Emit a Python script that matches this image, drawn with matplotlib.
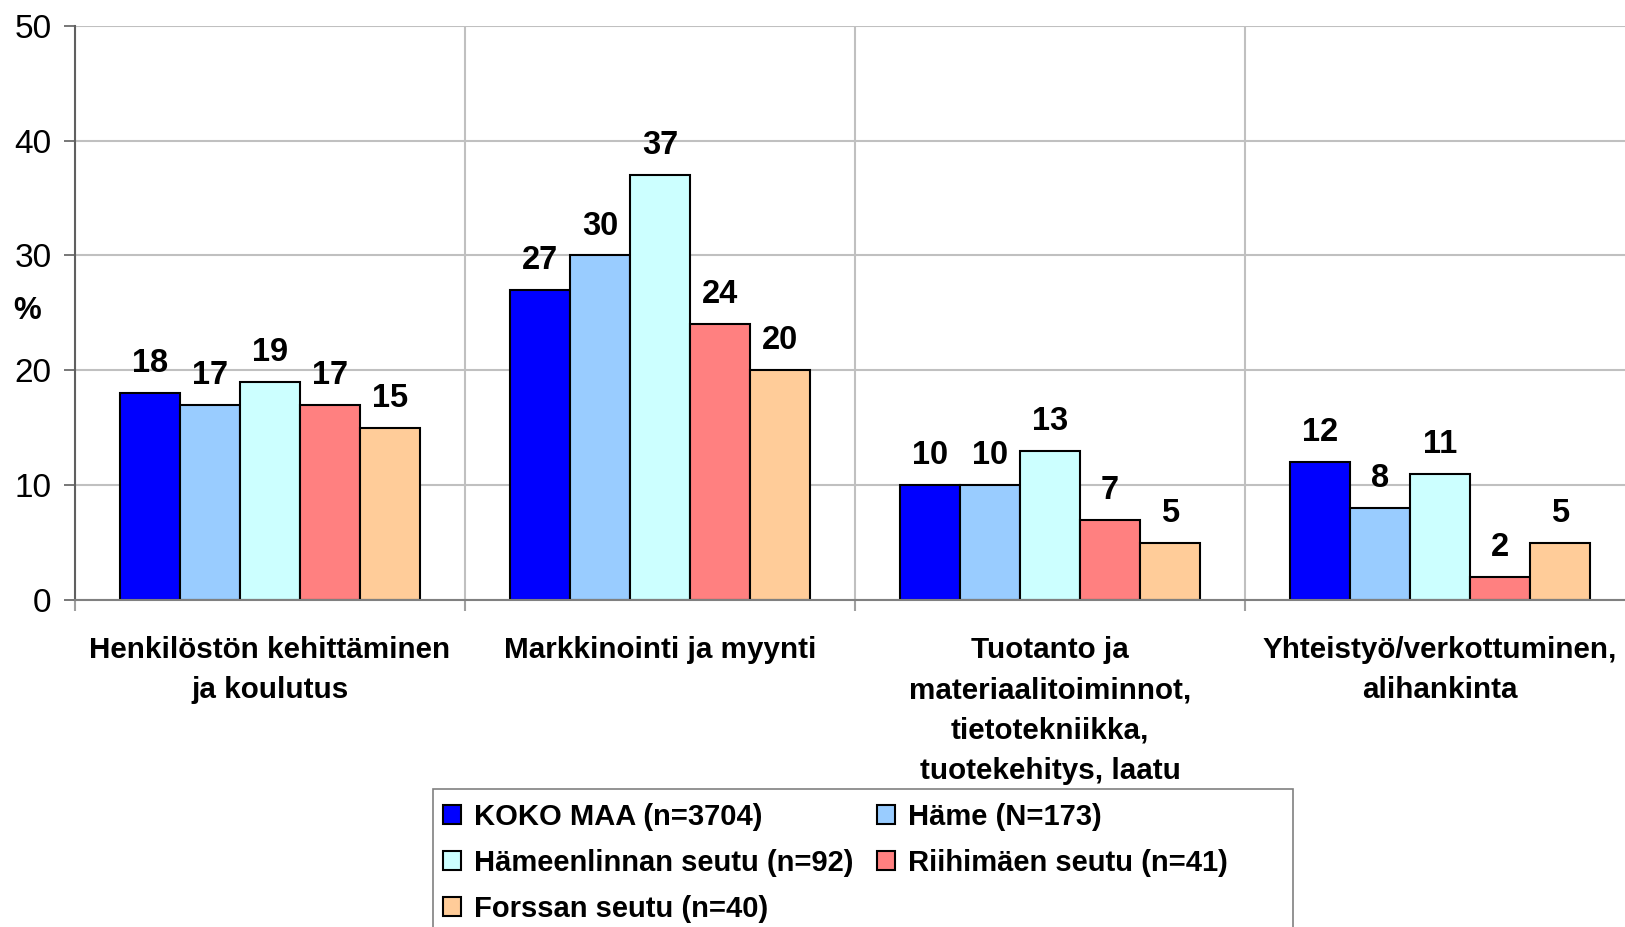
import matplotlib.pyplot as plt
from matplotlib.patches import Rectangle
import numpy as np

plt.rcParams['font.family'] = ['Liberation Sans', 'DejaVu Sans']

categories = ["Henkilöstön kehittäminen\nja koulutus",
              "Markkinointi ja myynti",
              "Tuotanto ja\nmateriaalitoiminnot,\ntietotekniikka,\ntuotekehitys, laatu",
              "Yhteistyö/verkottuminen,\nalihankinta"]
series_names = ["KOKO MAA (n=3704)", "Häme (N=173)", "Hämeenlinnan seutu (n=92)",
                "Riihimäen seutu (n=41)", "Forssan seutu (n=40)"]
koko_maa = [18, 27, 10, 12]
hame = [17, 30, 10, 8]
hameenlinna = [19, 37, 13, 11]
riihimaki = [17, 24, 7, 2]
forssa = [15, 20, 5, 5]
series = [koko_maa, hame, hameenlinna, riihimaki, forssa]
colors = ['#0000FF', '#99CCFF', '#CCFFFF', '#FF8080', '#FFCC99']
y_ticks = [0, 10, 20, 30, 40, 50]

fig = plt.figure(figsize=(16.25, 9.27), dpi=100)
ax = fig.add_axes([75 / 1625, 1 - 600 / 927, 1560 / 1625, 574.3 / 927])

x = np.arange(len(categories))
w = 0.154
handles = []
for j, (vals, col, name) in enumerate(zip(series, colors, series_names)):
    bars = ax.bar(x + (j - 2) * w, vals, w, color=col, edgecolor='black',
                  linewidth=1.5, label=name, zorder=3)
    handles.append(bars)
    for xi, v in zip(x + (j - 2) * w, vals):
        ax.annotate(str(v), (xi, v), xytext=(0, 10), textcoords='offset points',
                    ha='center', va='bottom', fontsize=23.5, fontweight='bold')

ax.set_xlim(-0.5, 3.5)
ax.set_ylim(0, 50)
ax.set_yticks(y_ticks)
ax.tick_params(axis='y', labelsize=24, length=8, width=1.2, color='#606060', pad=9)
ax.yaxis.grid(True, color='#C0C0C0', linewidth=1.5, zorder=0)

# category boundaries as major ticks, names as minor ticks
ax.set_xticks([-0.5, 0.5, 1.5, 2.5])
ax.set_xticklabels([])
ax.tick_params(axis='x', which='major', length=8, width=1.5, color='#A0A0A0')
ax.xaxis.grid(True, which='major', color='#C0C0C0', linewidth=1.5, zorder=0)
ax.set_xticks(x, minor=True)
ax.set_xticklabels(categories, minor=True, fontsize=21.3, fontweight='bold',
                   linespacing=1.56)
ax.tick_params(axis='x', which='minor', length=0, pad=26)

for s in ['top', 'right']:
    ax.spines[s].set_visible(False)
ax.spines['left'].set_color('#606060')
ax.spines['left'].set_linewidth(1.5)
ax.spines['bottom'].set_color('#808080')
ax.spines['bottom'].set_linewidth(1.5)
ax.spines['bottom'].set_zorder(4)

ax.set_ylabel('%', rotation=0, fontsize=22.5, fontweight='bold', ha='center', va='center')
ax.yaxis.set_label_coords(-0.031, 0.503)

# legend frame drawn separately (wider than the entries)
fig.patches.append(Rectangle((433 / 1625, -0.05), 860 / 1625, 0.05 + 1 - 789 / 927,
                             transform=fig.transFigure, facecolor='white',
                             edgecolor='#808080', linewidth=1.2, zorder=1))
order = [0, 2, 4, 1, 3]
leg = fig.legend([handles[i] for i in order], [series_names[i] for i in order],
                 loc='upper left', bbox_to_anchor=(443 / 1625, 1 - 803 / 927),
                 ncol=2, prop={'size': 21, 'weight': 'bold'}, frameon=False,
                 handlelength=0.62, handleheight=0.62, handletextpad=0.45,
                 columnspacing=0.79, labelspacing=0.61, borderpad=0,
                 borderaxespad=0)

plt.savefig('out.png', dpi=100)
